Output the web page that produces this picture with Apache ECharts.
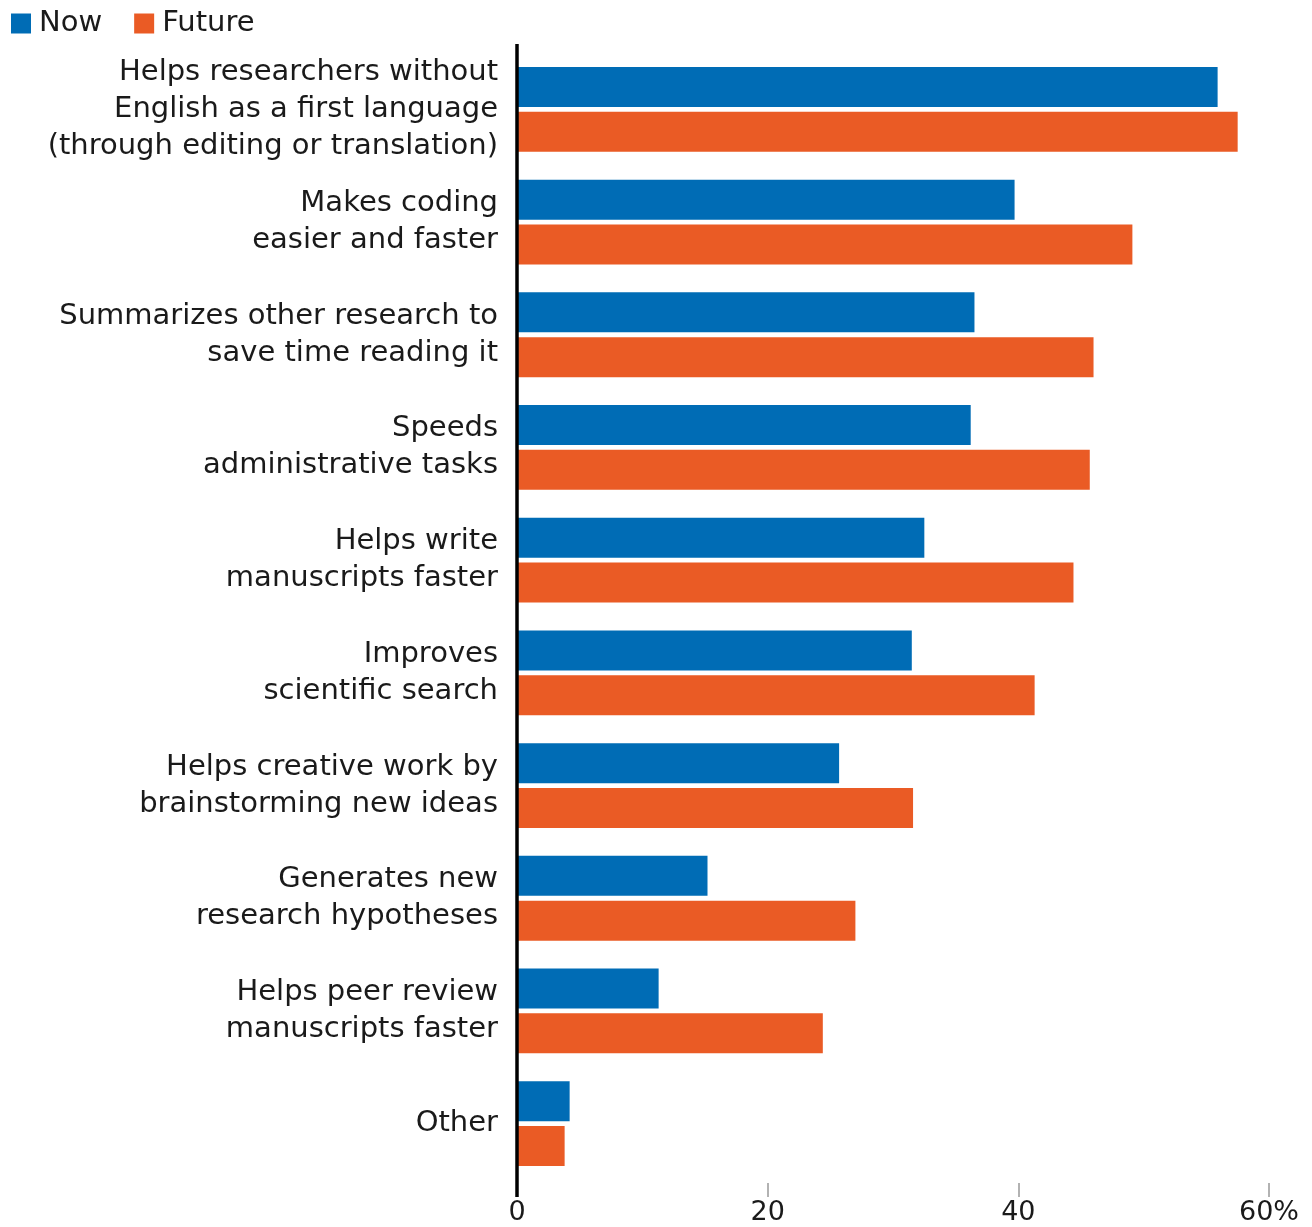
<!DOCTYPE html>
<html>
<head>
<meta charset="utf-8">
<script src="https://cdn.jsdelivr.net/npm/echarts@6/dist/echarts.min.js"></script>
<style>
  html, body { margin: 0; padding: 0; background: #fff; }
  #chart { width: 1312px; height: 1227px; }
</style>
</head>
<body>
<div id="chart"></div>
<script>
const categories = [
  "Helps researchers without\nEnglish as a first language\n(through editing or translation)",
  "Makes coding\neasier and faster",
  "Summarizes other research to\nsave time reading it",
  "Speeds\nadministrative tasks",
  "Helps write\nmanuscripts faster",
  "Improves\nscientific search",
  "Helps creative work by\nbrainstorming new ideas",
  "Generates new\nresearch hypotheses",
  "Helps peer review\nmanuscripts faster",
  "Other"
];
const nowValues = [55.9, 39.7, 36.5, 36.2, 32.5, 31.5, 25.7, 15.2, 11.3, 4.2];
const futureValues = [57.5, 49.1, 46.0, 45.7, 44.4, 41.3, 31.6, 27.0, 24.4, 3.8];
const xTicks = [0, 20, 40, 60];

const FONT = "DejaVu Sans";
const chart = echarts.init(document.getElementById("chart"));

chart.setOption({
  animation: false,
  textStyle: { fontFamily: FONT },
  legend: {
    left: 6,
    top: 4,
    itemWidth: 20,
    itemHeight: 20,
    itemGap: 32,
    icon: "rect",
    textStyle: { fontSize: 29, color: "#1a1a1a", fontFamily: FONT, padding: [0, 0, 0, 3] },
    data: ["Now", "Future"]
  },
  grid: { left: 517, right: 43, top: 53, bottom: 47, containLabel: false },
  xAxis: {
    type: "value",
    min: 0,
    max: 60,
    interval: 20,
    offset: 3,
    axisLine: { show: false },
    axisTick: { show: true, length: 14, lineStyle: { color: "#999", width: 1.5 } },
    splitLine: { show: false },
    axisLabel: {
      fontSize: 27,
      color: "#1a1a1a",
      margin: 16,
      formatter: v => xTicks.includes(v) ? (v === 60 ? v + "%" : String(v)) : ""
    }
  },
  yAxis: {
    type: "category",
    inverse: true,
    data: categories,
    axisLine: { show: false },
    axisTick: { show: false },
    axisLabel: {
      fontSize: 29,
      lineHeight: 37,
      color: "#1a1a1a",
      margin: 19,
      align: "right"
    }
  },
  series: [
    {
      name: "Now",
      type: "bar",
      data: nowValues,
      barWidth: 40,
      barGap: "12%",
      itemStyle: { color: "#006cb5" }
    },
    {
      name: "Future",
      type: "bar",
      data: futureValues,
      barWidth: 40,
      itemStyle: { color: "#ea5b25" }
    }
  ]
});

// vertical zero line extends beyond the grid a little, as in the original
const rect = chart.getModel().getComponent("grid").coordinateSystem.getRect();
const x0 = chart.convertToPixel({ xAxisIndex: 0 }, 0);
chart.setOption({
  graphic: [{
    type: "line",
    z: 10,
    shape: { x1: x0, y1: rect.y - 9, x2: x0, y2: rect.y + rect.height + 17 },
    style: { stroke: "#000", lineWidth: 3.5 }
  }]
});
</script>
</body>
</html>
